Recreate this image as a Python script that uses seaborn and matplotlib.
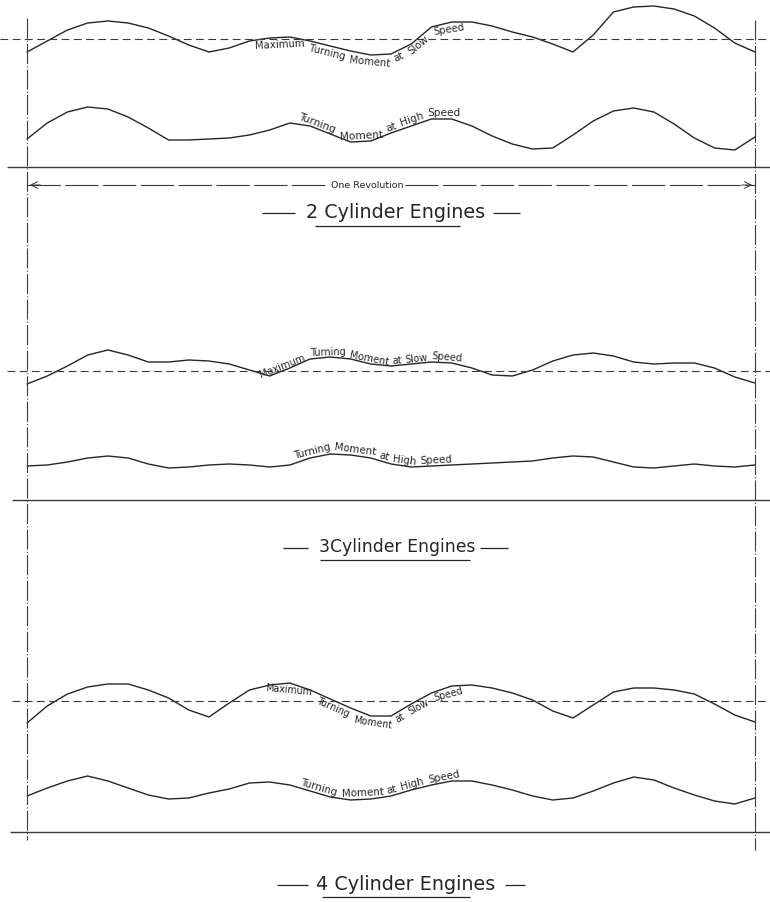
import numpy as np
import pandas as pd
import seaborn as sns
import matplotlib.pyplot as plt

# Turning moment diagrams for 2, 3 and 4 cylinder engines
# y values are read off the drawing (drawing units, measured down from the top of the sheet)
# ---------------------------------------------------------------------
crank_angle = list(range(0, 361, 10))  # one revolution, degrees

two_cyl_slow = [52, 41, 30, 23, 21, 23, 28, 36, 45, 52, 48, 41, 38, 37, 41, 46, 51, 55, 54,
                44, 27, 22, 22, 26, 32, 37, 44, 52, 35, 12, 7, 6, 9, 16, 28, 43, 52]
two_cyl_high = [139, 123, 112, 107, 109, 117, 128, 140, 140, 139, 138, 135, 130, 123, 126, 134, 142, 141, 133,
                126, 119, 119, 126, 136, 144, 149, 148, 135, 121, 111, 108, 112, 124, 138, 148, 150, 137]

three_cyl_slow = [384, 376, 366, 355, 350, 355, 362, 362, 360, 361, 364, 370, 376, 368, 359, 357, 359, 364, 366,
                  364, 362, 363, 368, 375, 376, 370, 361, 355, 353, 356, 362, 364, 363, 363, 368, 377, 383]
three_cyl_high = [466, 465, 462, 458, 456, 458, 464, 468, 467, 465, 464, 465, 467, 465, 458, 454, 455, 458, 464,
                  467, 466, 465, 464, 463, 462, 461, 458, 456, 457, 462, 467, 468, 466, 464, 466, 467, 465]

four_cyl_slow = [723, 706, 694, 687, 684, 684, 690, 698, 710, 717, 703, 690, 685, 683, 690, 699, 708, 716, 716,
                 704, 693, 686, 685, 688, 693, 700, 711, 718, 705, 692, 688, 688, 690, 694, 704, 715, 722]
four_cyl_high = [796, 788, 781, 776, 781, 788, 795, 799, 798, 793, 789, 783, 782, 785, 791, 797, 800, 799, 796,
                 790, 785, 781, 781, 785, 790, 796, 800, 798, 791, 783, 777, 780, 788, 795, 801, 804, 798]

slow_label = "Maximum Turning Moment at Slow Speed"
high_label = "Turning Moment at High Speed"
titles = ["2 Cylinder Engines", "3Cylinder Engines", "4 Cylinder Engines"]
revolution_label = "One Revolution"
# ---------------------------------------------------------------------

series = {
    "2 slow": two_cyl_slow, "2 high": two_cyl_high,
    "3 slow": three_cyl_slow, "3 high": three_cyl_high,
    "4 slow": four_cyl_slow, "4 high": four_cyl_high,
}
df = pd.concat([pd.DataFrame({"angle": crank_angle, "moment": v, "curve": k})
                for k, v in series.items()], ignore_index=True)

ink = "#262626"
pencil = "#3a3a3a"


def px2deg(px):
    # sheet position -> crank angle (0 deg at the left ordinate, 360 at the right one)
    return (px - 27) / 728 * 360


sns.set_theme(style="white")
plt.rcParams['font.family'] = ['DejaVu Sans']

fig = plt.figure(figsize=(7.7, 9.02), dpi=100)
ax = fig.add_axes([0, 0, 1, 1])
ax.set_xlim(px2deg(0), px2deg(770))
ax.set_ylim(902, 0)
ax.axis('off')

sns.lineplot(data=df, x="angle", y="moment", units="curve", estimator=None,
             color=ink, lw=1.0, sort=False, ax=ax, legend=False)

# mean / baseline lines per panel
slow_ref_y = [39, 371, 701]
base_y = [167, 500, 832]
ref_start = [0, 7, 12]
base_start = [7, 12, 10]
for i in range(3):
    ax.hlines(slow_ref_y[i], px2deg(ref_start[i]), px2deg(770), color=pencil, lw=0.8,
              linestyles=(0, (7, 4)))
    ax.hlines(base_y[i], px2deg(base_start[i]), px2deg(770), color=pencil, lw=1.0)

# ordinates at start and end of the revolution
ax.vlines(0, 18, 840, color=pencil, lw=0.8, linestyles=(0, (18, 2, 1, 2)))
ax.vlines(360, 20, 850, color=pencil, lw=0.8, linestyles=(0, (18, 2, 1, 2)))

# "One Revolution" dimension
ax.hlines(185, 0, 360, color=pencil, lw=0.8, linestyles=(0, (30, 4)))
ax.annotate("", xy=(0, 185), xytext=(8, 185),
            arrowprops=dict(arrowstyle="->", color=pencil, lw=0.7))
ax.annotate("", xy=(360, 185), xytext=(352, 185),
            arrowprops=dict(arrowstyle="->", color=pencil, lw=0.7))
ax.text(px2deg(367), 185, revolution_label, ha='center', va='center', fontsize=6.8,
        color=ink, bbox=dict(fc='white', ec='none', pad=1.5))

# panel titles with dashes and underline
title_y = [212, 547, 884]
title_x = [396, 397, 406]
title_size = [13.8, 12.4, 13.8]
dash_left = [(262, 295), (283, 308), (277, 308)]
dash_right = [(493, 520), (480, 508), (505, 525)]
under_y = [226, 560, 897]
under_x = [(315, 460), (320, 470), (322, 470)]
for i, t in enumerate(titles):
    ax.text(px2deg(title_x[i]), title_y[i], t, ha='center', va='center', fontsize=title_size[i], color=ink)
    ax.hlines(title_y[i] + 1, px2deg(dash_left[i][0]), px2deg(dash_left[i][1]), color=ink, lw=0.9)
    ax.hlines(title_y[i] + 1, px2deg(dash_right[i][0]), px2deg(dash_right[i][1]), color=ink, lw=0.9)
    ax.hlines(under_y[i], px2deg(under_x[i][0]), px2deg(under_x[i][1]), color=ink, lw=0.9)

renderer = fig.canvas.get_renderer()


def curve_label(text, values, x0, x1, offset, size=7.0):
    # write the words along the curve, each one turned to the local slope,
    # scaled so the lettering fills the stretch from x0 to x1 (sheet px)
    words = text.split()
    widths = []
    for w in words:
        t = ax.text(0, 0, w, fontsize=size)
        widths.append(t.get_window_extent(renderer).width)
        t.remove()
    gap = 3.0
    scale = (x1 - x0) / (sum(widths) + gap * (len(words) - 1))
    fs = size * min(scale, 1.25)
    widths = [w * fs / size for w in widths]
    gap = (x1 - x0 - sum(widths)) / (len(words) - 1)
    pos = x0
    for w, wd in zip(words, widths):
        xc = px2deg(pos + wd / 2)
        yc = np.interp(xc, crank_angle, values) + offset
        pa = ax.transData.transform((xc - 4, np.interp(xc - 4, crank_angle, values)))
        pb = ax.transData.transform((xc + 4, np.interp(xc + 4, crank_angle, values)))
        ang = np.degrees(np.arctan2(pb[1] - pa[1], pb[0] - pa[0]))
        ax.text(xc, yc, w, rotation=ang, rotation_mode='anchor', ha='center', va='center',
                fontsize=fs, color=ink)
        pos += wd + gap


curve_label(slow_label, two_cyl_slow, 255, 465, 7)
curve_label(high_label, two_cyl_high, 298, 460, -6)
curve_label(slow_label, three_cyl_slow, 258, 462, -5)
curve_label(high_label, three_cyl_high, 293, 452, -6)
curve_label(slow_label, four_cyl_slow, 265, 463, 7)
curve_label(high_label, four_cyl_high, 300, 460, -6)

fig.savefig("out.png", dpi=100)
